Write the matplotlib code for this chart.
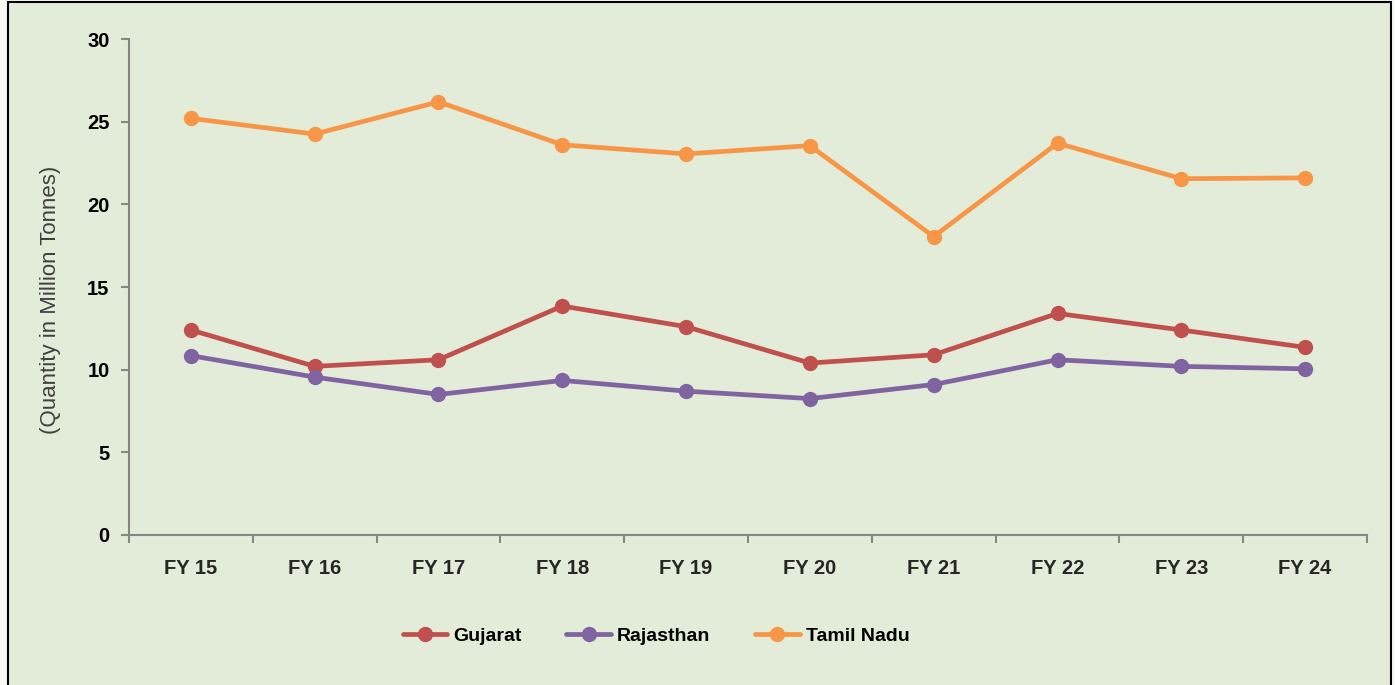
import matplotlib
matplotlib.use("Agg")
import matplotlib.pyplot as plt
from matplotlib.patches import Rectangle

years = ['FY 15', 'FY 16', 'FY 17', 'FY 18', 'FY 19', 'FY 20', 'FY 21', 'FY 22', 'FY 23', 'FY 24']
gujarat = [12.4, 10.2, 10.6, 13.85, 12.6, 10.4, 10.9, 13.4, 12.4, 11.35]
rajasthan = [10.85, 9.55, 8.5, 9.35, 8.7, 8.25, 9.1, 10.6, 10.2, 10.05]
tamil_nadu = [25.2, 24.25, 26.2, 23.6, 23.05, 23.55, 18.05, 23.7, 21.55, 21.6]

bg = '#e2ecd8'
axis_col = '#868686'

fig = plt.figure(figsize=(13.95, 6.85), dpi=100)
fig.patch.set_facecolor('#f7faf5')
fig.patches.append(Rectangle((8 / 1395, -0.01), 1383 / 1395, 1 - 2 / 685 + 0.01,
                             transform=fig.transFigure, facecolor=bg,
                             edgecolor='black', linewidth=1.5, zorder=-1))

ax = fig.add_axes([129 / 1395, 1 - 535 / 685, 1238 / 1395, 496 / 685])
ax.set_facecolor('none')

x = list(range(len(years)))
series = [('Gujarat', gujarat, '#c0504d'),
          ('Rajasthan', rajasthan, '#8064a2'),
          ('Tamil Nadu', tamil_nadu, '#f79646')]
for name, vals, col in series:
    ax.plot(x, vals, color=col, linewidth=3.4, marker='o', markersize=10,
            solid_capstyle='round', label=name)

ax.set_xlim(-0.5, len(years) - 0.5)
ax.set_ylim(0, 30)
ax.set_yticks(range(0, 31, 5))
ax.set_xticks(x)
ax.set_xticklabels(years, fontsize=14.5, fontweight='bold', family='Liberation Sans', color='#262626')
ax.set_xticks([i - 0.5 for i in range(len(years) + 1)], minor=True)
ax.tick_params(axis='x', which='major', length=0, pad=17)
ax.tick_params(axis='x', which='minor', length=6, width=1.5, color=axis_col, direction='out')
ax.tick_params(axis='y', length=6, width=1.5, color=axis_col, direction='out', pad=8)
for lab in ax.get_yticklabels():
    lab.set_fontsize(14.5)
    lab.set_fontweight('bold')
    lab.set_family('Liberation Sans')

for s in ['top', 'right']:
    ax.spines[s].set_visible(False)
for s in ['left', 'bottom']:
    ax.spines[s].set_color(axis_col)
    ax.spines[s].set_linewidth(1.5)

ax.set_ylabel('(Quantity in Million Tonnes)', fontsize=16, family='Liberation Sans',
              color='#404040')
ax.yaxis.set_label_coords(-68 / 1238, 0.475)

leg = fig.legend(loc='center', bbox_to_anchor=(656 / 1395, 1 - 636 / 685), ncol=3,
                 frameon=False, columnspacing=2.3, handlelength=2.3, handletextpad=0.3,
                 prop={'family': 'Liberation Sans', 'weight': 'bold', 'size': 14})

fig.savefig('out.png', dpi=100, facecolor=fig.get_facecolor())
